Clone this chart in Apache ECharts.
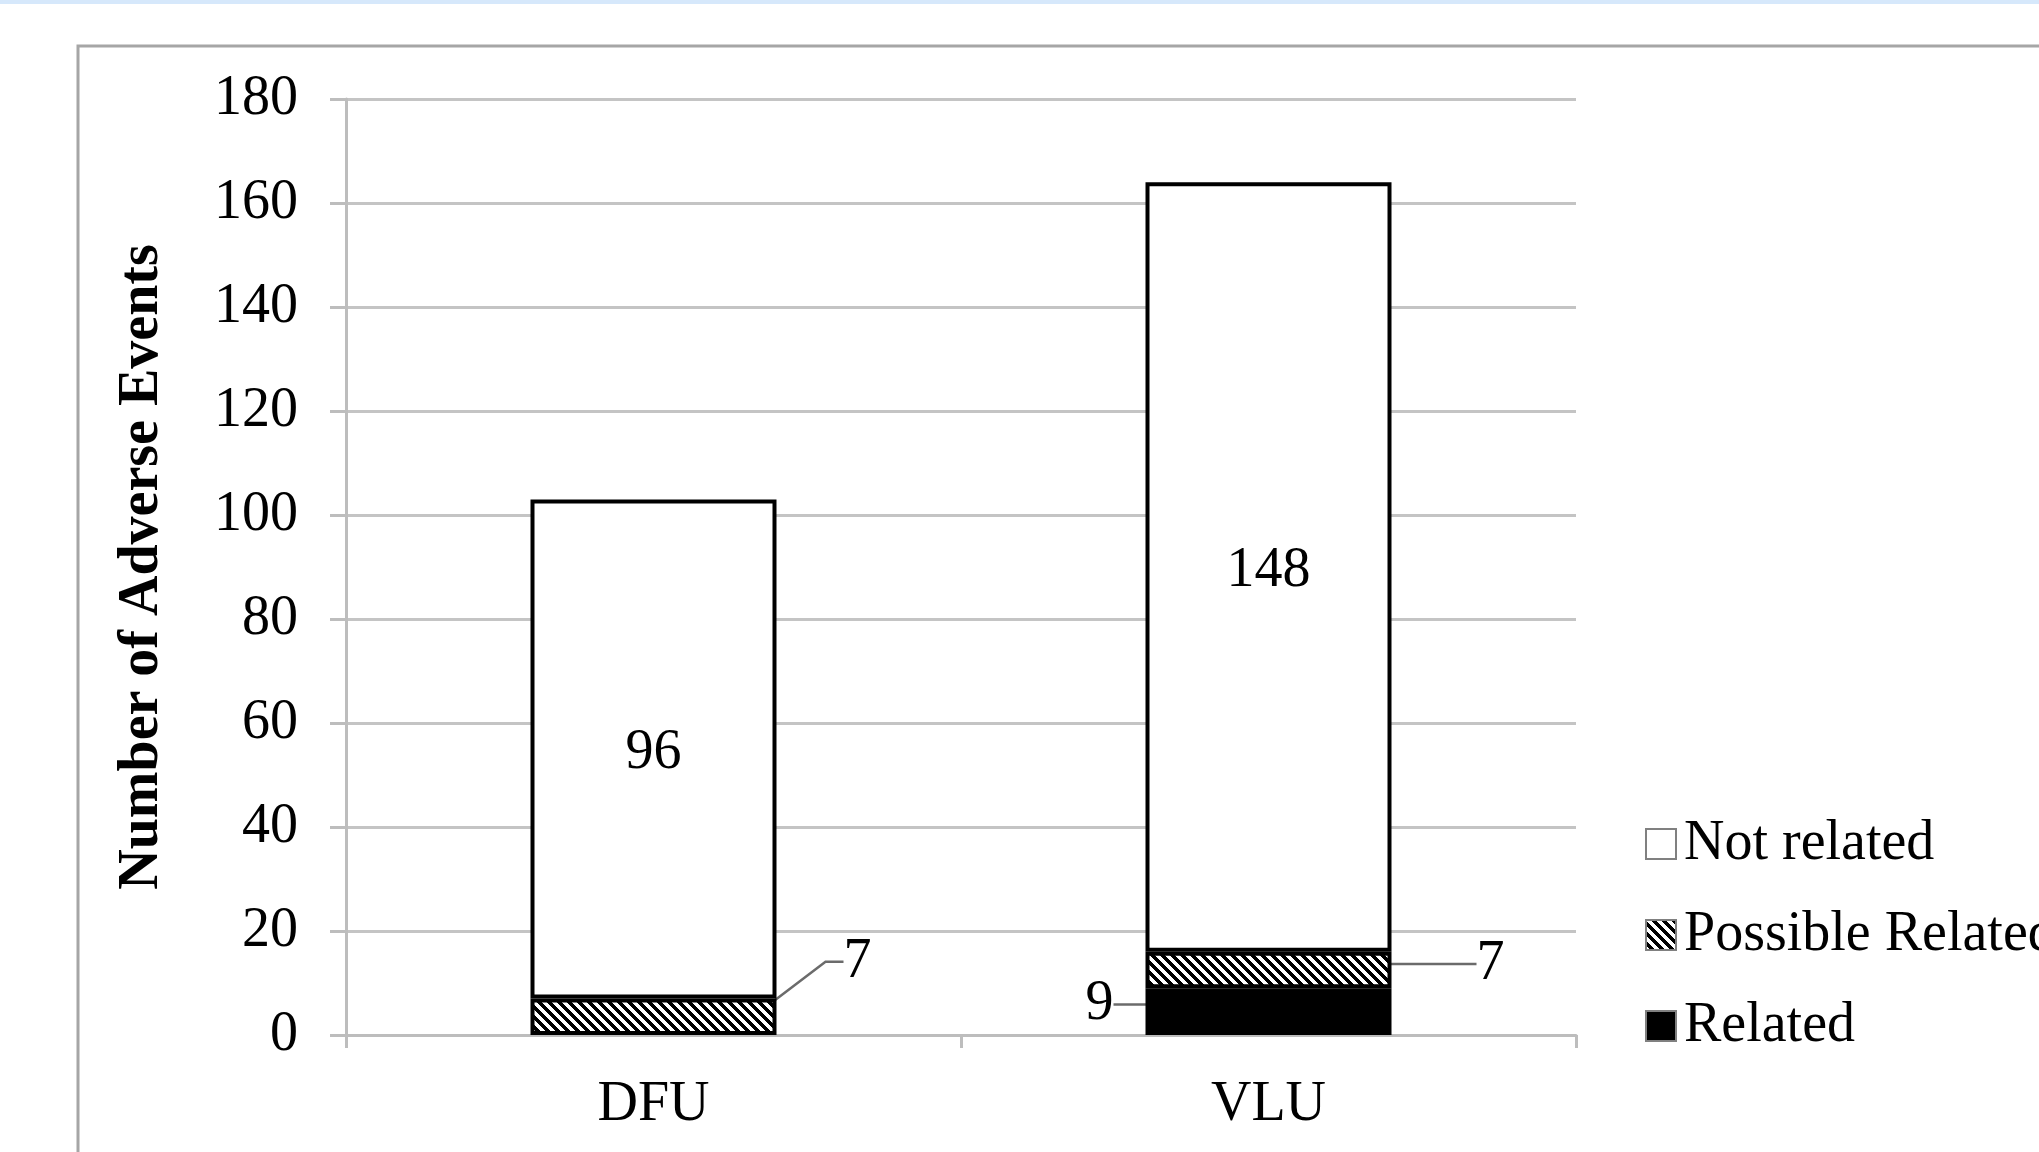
<!DOCTYPE html>
<html><head><meta charset="utf-8">
<script src="https://cdn.jsdelivr.net/npm/echarts@6/dist/echarts.min.js"></script>
<style>html,body{margin:0;padding:0;background:#fff}#c{width:2039px;height:1152px}</style>
</head><body><div id="c"></div>
<script>
const categories = ['DFU', 'VLU'];
const seriesNames = ['Not related', 'Possible Related', 'Related'];
const notRelated = [96, 148];
const possibleRelated = [7, 7];
const related = [0, 9];
const yMin = 0, yMax = 180, yInterval = 20;

const FONT = 'Liberation Serif';

function hatchCanvas() {
  const c = document.createElement('canvas');
  c.width = 10; c.height = 10;
  const ctx = c.getContext('2d');
  const img = ctx.createImageData(10, 10);
  for (let y = 0; y < 10; y++) {
    for (let x = 0; x < 10; x++) {
      const d = ((x - y) % 10 + 10) % 10;
      const v = d < 5 ? 255 : 0;
      const i = (y * 10 + x) * 4;
      img.data[i] = v; img.data[i + 1] = v; img.data[i + 2] = v; img.data[i + 3] = 255;
    }
  }
  ctx.putImageData(img, 0, 0);
  return c;
}
const hatch = { image: hatchCanvas(), repeat: 'repeat' };

const chart = echarts.init(document.getElementById('c'), null, { renderer: 'canvas' });
const labelBase = { color: '#000', fontFamily: FONT, fontSize: 56, textBorderWidth: 0 };
const leader = { show: true, lineStyle: { color: '#6b6b6b', width: 2.5 } };

const option = {
  animation: false,
  backgroundColor: '#fff',
  graphic: [
    { type: 'rect', shape: { x: 0, y: 0, width: 2039, height: 4 }, style: { fill: '#d6e8fb' }, silent: true },
    { type: 'rect', shape: { x: 78, y: 46, width: 2100, height: 1200 }, style: { fill: 'none', stroke: '#a6a6a6', lineWidth: 3 }, silent: true }
  ],
  grid: { left: 346, right: 463, top: 99, bottom: 117, containLabel: false },
  legend: {
    orient: 'vertical',
    left: 1640, top: 809,
    itemWidth: 30, itemHeight: 30, itemGap: 31,
    icon: 'rect',
    data: seriesNames,
    itemStyle: { borderColor: '#808080', borderWidth: 2 },
    textStyle: { fontFamily: FONT, fontSize: 56, color: '#000', lineHeight: 60, padding: [0, 0, 0, 3] }
  },
  xAxis: {
    type: 'category',
    data: categories,
    axisLine: { lineStyle: { color: '#bdbdbd', width: 3 } },
    axisTick: { show: true, length: 13, lineStyle: { color: '#bdbdbd', width: 3 } },
    axisLabel: { fontFamily: FONT, fontSize: 56, color: '#000', margin: 42 }
  },
  yAxis: {
    type: 'value',
    min: yMin, max: yMax, interval: yInterval,
    name: 'Number of Adverse Events',
    nameLocation: 'middle',
    nameGap: 175,
    nameTextStyle: { fontFamily: FONT, fontSize: 56, fontWeight: 'bold', color: '#000' },
    axisLine: { show: true, lineStyle: { color: '#bdbdbd', width: 3 } },
    axisTick: { show: true, length: 16, lineStyle: { color: '#bdbdbd', width: 3 } },
    axisLabel: { fontFamily: FONT, fontSize: 56, color: '#000', margin: 48 },
    splitLine: { show: true, lineStyle: { color: '#c4c4c4', width: 3 } }
  },
  series: [
    {
      name: 'Related', type: 'bar', stack: 'a', barWidth: '40%',
      data: related.map(v => ({ value: v, label: { show: v > 0 }, itemStyle: { borderWidth: v > 0 ? 4 : 0 } })),
      itemStyle: { color: '#000', borderColor: '#000', borderWidth: 4 },
      label: Object.assign({ show: true, position: 'left', distance: 5 }, labelBase),
      labelLayout: function () { return { dx: -27, dy: -7 }; },
      labelLine: Object.assign({ length2: 10 }, leader)
    },
    {
      name: 'Possible Related', type: 'bar', stack: 'a', barWidth: '40%',
      data: possibleRelated,
      itemStyle: { color: hatch, borderColor: '#000', borderWidth: 4 },
      label: Object.assign({ show: true, position: 'right', distance: 5 }, labelBase),
      labelLayout: function (p) { return p.dataIndex === 0 ? { dx: 62, dy: -55 } : { dx: 80, dy: -6 }; },
      labelLine: Object.assign({ length2: 18 }, leader)
    },
    {
      name: 'Not related', type: 'bar', stack: 'a', barWidth: '40%',
      data: notRelated,
      itemStyle: { color: '#fff', borderColor: '#000', borderWidth: 4 },
      label: Object.assign({ show: true, position: 'inside', offset: [0, 4] }, labelBase)
    }
  ]
};
chart.setOption(option);
</script>
</body></html>
